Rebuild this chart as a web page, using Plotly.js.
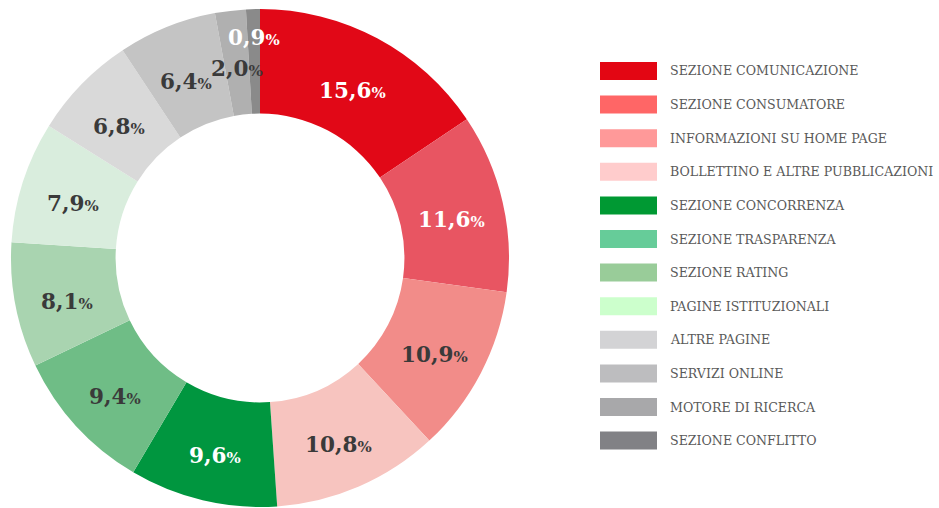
<!DOCTYPE html>
<html><head><meta charset="utf-8">
<script src="https://cdn.plot.ly/plotly-3.0.1.min.js"></script>
<style>html,body{margin:0;padding:0;background:#fff}#chart{width:939px;height:508px}</style>
</head><body><div id="chart"></div>
<script>
const categories = ["SEZIONE COMUNICAZIONE","SEZIONE CONSUMATORE","INFORMAZIONI SU HOME PAGE","BOLLETTINO E ALTRE PUBBLICAZIONI","SEZIONE CONCORRENZA","SEZIONE TRASPARENZA","SEZIONE RATING","PAGINE ISTITUZIONALI","ALTRE PAGINE","SERVIZI ONLINE","MOTORE DI RICERCA","SEZIONE CONFLITTO"];
const values = [15.6,11.6,10.9,10.8,9.6,9.4,8.1,7.9,6.8,6.4,2.0,0.9];
const sliceColors = ["#E10817","#E85562","#F28C89","#F7C4BF","#00963F","#6FBD86","#A9D4B0","#D9EDDD","#D9D9D9","#C4C4C4","#B0B0B0","#8A8A8A"];
const legendColors = ["#E30613","#FF6666","#FF9999","#FFCCCC","#009933","#66CC99","#99CC99","#CCFFCC","#D3D3D5","#BDBDBF","#A8A8AA","#818185"];
const textColors = ["#ffffff","#ffffff","#3a3a3a","#3a3a3a","#ffffff","#3a3a3a","#3a3a3a","#3a3a3a","#3a3a3a","#3a3a3a","#3a3a3a","#ffffff"];

const W = 939, H = 508;
const cx = 260, cy = 258, R = 249, holeFrac = 0.58;

const trace = {
  type: "pie",
  labels: categories,
  values: values,
  textinfo: "none",
  marker: {colors: sliceColors, line: {width: 0}},
  hole: holeFrac,
  sort: false,
  direction: "clockwise",
  rotation: 0,
  domain: {x: [(cx - R) / W, (cx + R) / W], y: [(H - cy - R) / H, (H - cy + R) / H]},
  showlegend: false,
  hoverinfo: "label+value"
};

const shapes = [];
const annotations = [];

// slice labels, placed at the middle of each slice's arc
const total = values.reduce((a, b) => a + b, 0);
let cum = 0;
values.forEach((v, i) => {
  const mid = (cum + v / 2) / total * 2 * Math.PI;
  cum += v;
  const rMid = R * (1 + holeFrac) / 2 + (v < 1 ? 30 : 0);
  const px = cx + rMid * Math.sin(mid);
  const py = cy + 6 - rMid * Math.cos(mid);
  annotations.push({xref: "paper", yref: "paper", x: px / W, y: 1 - py / H,
    xanchor: "center", yanchor: "middle", showarrow: false,
    text: "<b>" + v.toFixed(1).replace(".", ",") + "<span style='font-size:15px'>%</span></b>",
    font: {family: "DejaVu Serif", size: 21.5, color: textColors[i]}});
});

// legend
const y0 = 71, step = 33.6;
categories.forEach((c, i) => {
  const yc = y0 + i * step;
  shapes.push({type: "rect", xref: "paper", yref: "paper",
    x0: 600 / W, x1: 657 / W, y0: 1 - (yc + 9) / H, y1: 1 - (yc - 9) / H,
    fillcolor: legendColors[i], line: {width: 0}});
  annotations.push({xref: "paper", yref: "paper", x: 668 / W, y: 1 - yc / H,
    xanchor: "left", yanchor: "middle", showarrow: false, text: c,
    font: {family: "DejaVu Serif", size: 12.6, color: "#595959"}});
});

const layout = {
  width: W, height: H,
  margin: {l: 0, r: 0, t: 0, b: 0},
  paper_bgcolor: "#ffffff",
  shapes: shapes,
  annotations: annotations
};
Plotly.newPlot("chart", [trace], layout, {displayModeBar: false, staticPlot: true});
</script></body></html>
